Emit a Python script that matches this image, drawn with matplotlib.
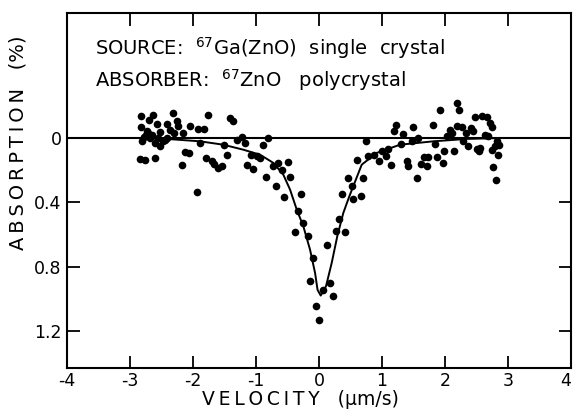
import matplotlib
matplotlib.use("Agg")
import matplotlib.pyplot as plt
import numpy as np

vel_puntos = [
    -2.825, -2.630, -2.322, -2.825, -2.694, -2.576, -2.408, -2.249, -2.365, -2.233,
    -2.725, -2.814, -2.683, -2.603, -2.524, -2.444, -2.746, -2.841, -2.762, -2.603,
    -2.302, -2.163, -2.048, -1.925, -1.825, -1.757, -2.127, -2.059, -2.170, -1.941,
    -1.889, -1.798, -1.703, -1.667, -1.598, -1.544, -1.508, -1.456, -1.413, -1.370,
    -1.306, -1.227, -1.175, -1.148, -1.043, -1.084, -0.989, -0.937, -0.894, -0.805,
    -0.841, -0.735, -0.646, -0.592, -0.487, -0.683, -0.556, -0.460, -0.290, -0.338,
    -0.249, -0.381, -0.170,
    -2.714, -2.651, -2.556, -2.476, -2.778, -2.413, -2.524,
    -0.090, -0.143, 0.068, -0.048, 0.003, 0.175, 0.222, 0.122,
    0.270, 0.413, 0.322, 0.360, 0.544, 0.662, 0.519, 0.456, 0.703, 0.608,
    0.783, 0.746, 0.873, 0.957, 0.995, 1.100, 1.063, 1.138, 1.190, 1.222,
    1.329, 1.297, 1.392, 1.417, 1.471, 1.497, 1.576, 1.560, 1.614, 1.667,
    1.719, 1.735, 1.805, 1.841, 1.868, 1.921, 1.973, 1.984, 2.027, 2.079,
    2.106, 2.143, 2.186, 2.227, 2.195, 2.265, 2.290, 2.333, 2.370, 2.408,
    2.449, 2.476, 2.503, 2.544, 2.583, 2.662, 2.714, 2.741, 2.635, 2.687,
    2.741, 2.821, 2.846, 2.862, 2.767, 2.810, 2.556, 2.794,
]
abs_puntos = [
    -0.139, -0.145, -0.155, -0.068, -0.109, -0.084, -0.089, -0.103, -0.052, -0.072,
    -0.041, 0.021, 0.000, 0.031, 0.052, 0.011, -0.020, 0.130, 0.135, 0.127,
    -0.031, -0.031, -0.072, -0.056, -0.056, -0.145, 0.089, 0.093, 0.170, 0.335,
    0.031, 0.124, 0.145, 0.160, 0.186, 0.176, 0.042, 0.104, -0.124, -0.103,
    0.011, -0.006, 0.031, 0.170, 0.191, 0.104, 0.114, 0.124, 0.046, 0.000,
    0.242, 0.176, 0.155, 0.201, 0.149, 0.296, 0.366, 0.242, 0.348, 0.452,
    0.528, 0.586, 0.611,
    -0.033, -0.020, -0.002, 0.017, -0.008, -0.002, -0.039,
    0.745, 0.891, 0.945, 1.042, 1.129, 0.903, 0.980, 0.663,
    0.580, 0.584, 0.501, 0.348, 0.379, 0.358, 0.296, 0.248, 0.248, 0.139,
    0.110, 0.021, 0.104, 0.145, 0.083, 0.068, 0.114, 0.166, -0.041, -0.083,
    -0.025, 0.037, 0.145, 0.172, 0.021, -0.068, 0.000, 0.248, 0.160, 0.118,
    0.172, 0.118, -0.083, 0.035, 0.118, -0.176, 0.155, 0.083, -0.010, -0.047,
    -0.031, 0.083, -0.217, -0.171, -0.076, -0.068, 0.021, -0.031, 0.052, -0.062,
    -0.041, -0.130, 0.068, 0.083, -0.139, -0.130, -0.093, -0.068, -0.020, -0.014,
    0.073, 0.021, 0.104, 0.042, 0.180, 0.263, 0.062, 0.052,
]

# Curva ajustada, leida punto a punto
vel_curva = [-2.76, -2.417, -1.889, -1.519, -1.202, -0.937, -0.725, -0.567, -0.460,
             -0.354, -0.249, -0.143, -0.063, -0.023, 0.027, 0.077, 0.111, 0.202,
             0.290, 0.386, 0.481, 0.678, 0.916, 1.286, 1.814, 2.344, 2.821]
abs_curva = [0.003, 0.006, 0.021, 0.042, 0.073, 0.104, 0.155, 0.228, 0.321,
             0.445, 0.549, 0.694, 0.839, 0.945, 0.980, 0.945, 0.922, 0.776,
             0.611, 0.466, 0.363, 0.166, 0.093, 0.042, 0.021, 0.006, 0.001]

xticks = [-4, -3, -2, -1, 0, 1, 2, 3, 4]
yticks = [0, 0.4, 0.8, 1.2]
ytick_labels = ["0", "0.4", "0.8", "1.2"]

# espacio fino entre letras para imitar el rotulado espaciado del original
TS = "\u2009"


def espaciar(palabra):
    return TS.join(palabra)


fig = plt.figure(figsize=(5.73, 4.11), dpi=100)
ax = fig.add_axes([0.117, 0.1056, 0.8795, 0.862])

ax.axhline(0, color="black", lw=1.5, zorder=1)
ax.plot(vel_curva, abs_curva, color="black", lw=1.4, zorder=2)
ax.plot(vel_puntos, abs_puntos, "o", color="black", ms=5.5, mew=0, zorder=3)

ax.set_xlim(-4, 4)
ax.set_ylim(1.428, -0.775)

ax.set_xticks(xticks)
ax.set_xticklabels([str(t) for t in xticks])
ax.get_xticklabels()[-1].set_ha("right")  # el "4" queda pegado al borde
ax.set_yticks(yticks)
ax.set_yticklabels(ytick_labels)
ax.tick_params(direction="in", length=9, width=1.3, labelsize=12.5,
               top=True, right=True, pad=4)
ax.tick_params(axis="x", pad=3)
for s in ax.spines.values():
    s.set_linewidth(1.5)

ax.set_xlabel(espaciar("VELOCITY") + "   (\u03bcm/s)", fontsize=13.5)
ax.xaxis.set_label_coords(0.464, -0.064)
ax.set_ylabel(espaciar("ABSORPTION") + "   (%)", fontsize=14)
ax.yaxis.set_label_coords(-0.078, 0.634)

ax.text(-3.56, -0.56, "SOURCE:  $^{67}$Ga(ZnO)  single  crystal",
        fontsize=14, va="center", ha="left")
ax.text(-3.56, -0.36, "ABSORBER:  $^{67}$ZnO   polycrystal",
        fontsize=14, va="center", ha="left")

fig.savefig("out.png", dpi=100)
